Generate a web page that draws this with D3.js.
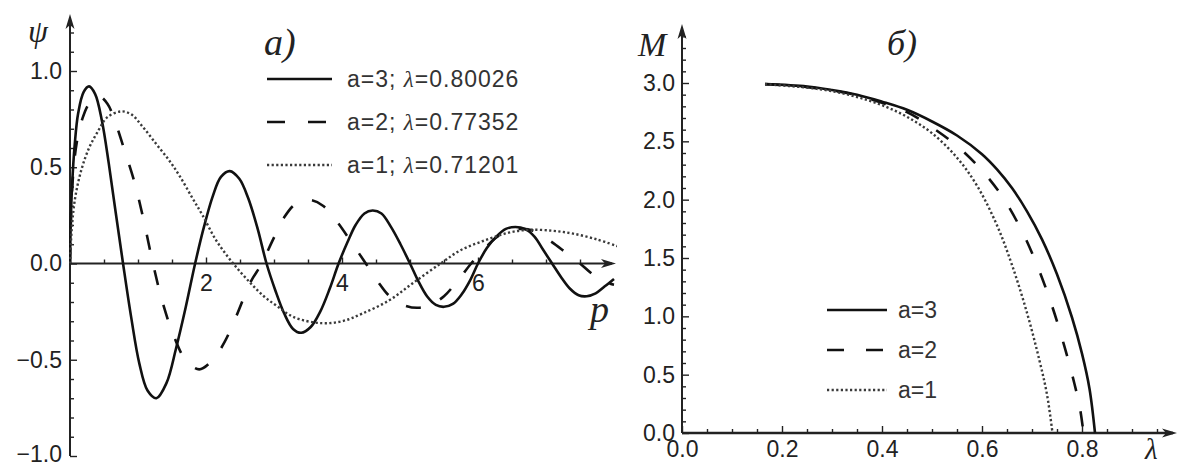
<!DOCTYPE html>
<html><head><meta charset="utf-8">
<script src="https://cdn.jsdelivr.net/npm/d3@7"></script>
<style>
body{margin:0;background:#fff}
svg{display:block}
text{font-family:"Liberation Sans",Arial,sans-serif}
.it{font-family:"Liberation Serif","Times New Roman",serif;font-style:italic}
</style>
</head><body>
<svg id="c" width="1178" height="466"></svg>
<script>
// ---------- DATA: panel a) psi(p) ----------
const psiA3 = [[0,0],[0.01,0.2],[0.03,0.4],[0.07,0.62],[0.12,0.78],[0.2,0.89],[0.28,0.92],[0.37,0.88],[0.47,0.74],[0.57,0.52],[0.67,0.27],[0.78,0],
[0.9,-0.28],[1.02,-0.52],[1.14,-0.66],[1.27,-0.70],[1.42,-0.62],[1.56,-0.44],[1.7,-0.23],[1.84,0],
[1.97,0.19],[2.1,0.35],[2.22,0.45],[2.35,0.48],[2.49,0.44],[2.62,0.34],[2.76,0.18],[2.89,0],
[3.02,-0.14],[3.15,-0.26],[3.28,-0.34],[3.4,-0.36],[3.54,-0.33],[3.68,-0.25],[3.82,-0.13],[3.95,0],
[4.08,0.11],[4.2,0.2],[4.33,0.26],[4.45,0.275],[4.58,0.26],[4.72,0.19],[4.86,0.1],[5.0,0],
[5.12,-0.09],[5.25,-0.17],[5.38,-0.215],[5.5,-0.225],[5.63,-0.21],[5.76,-0.16],[5.88,-0.09],[6.0,0],
[6.13,0.08],[6.27,0.14],[6.41,0.18],[6.55,0.19],[6.69,0.18],[6.83,0.14],[6.96,0.07],[7.09,0],
[7.22,-0.07],[7.35,-0.13],[7.48,-0.165],[7.6,-0.17],[7.73,-0.155],[7.86,-0.12],[8.0,-0.08]];
const psiA2 = [[0,0],[0.02,0.3],[0.05,0.48],[0.1,0.63],[0.18,0.75],[0.28,0.83],[0.42,0.87],[0.55,0.83],[0.66,0.74],[0.8,0.59],[0.95,0.42],[1.08,0.23],[1.22,0],
[1.36,-0.2],[1.53,-0.38],[1.7,-0.5],[1.9,-0.55],[2.1,-0.5],[2.27,-0.41],[2.45,-0.27],[2.65,-0.1],[2.82,0],
[2.98,0.12],[3.15,0.24],[3.32,0.31],[3.52,0.33],[3.72,0.3],[3.92,0.22],[4.12,0.12],[4.35,0],
[4.52,-0.09],[4.7,-0.17],[4.9,-0.215],[5.12,-0.23],[5.32,-0.21],[5.5,-0.17],[5.7,-0.09],[5.9,0],
[6.08,0.07],[6.25,0.13],[6.45,0.17],[6.65,0.18],[6.85,0.165],[7.05,0.12],[7.28,0.06],[7.5,0],
[7.7,-0.06],[7.9,-0.1],[8.0,-0.11]];
const psiA1 = [[0,0],[0.03,0.2],[0.08,0.35],[0.17,0.49],[0.28,0.6],[0.4,0.68],[0.55,0.76],[0.75,0.79],[0.9,0.775],[1.07,0.71],[1.27,0.62],[1.47,0.53],[1.62,0.45],[1.8,0.34],[1.95,0.25],[2.15,0.12],[2.4,0],
[2.65,-0.1],[2.85,-0.17],[3.04,-0.22],[3.3,-0.28],[3.7,-0.31],[4.0,-0.3],[4.3,-0.26],[4.7,-0.19],[5.05,-0.1],[5.45,0],
[5.75,0.07],[6.1,0.12],[6.45,0.16],[6.75,0.175],[7.1,0.17],[7.4,0.155],[7.75,0.125],[8.05,0.09]];
const legendA = ["a=3; ", "a=2; ", "a=1; "];
const lambdaA = ["=0.80026", "=0.77352", "=0.71201"];
const ticksAx = [2, 4, 6];
const ticksAy = [-1, -0.5, 0, 0.5, 1];

// ---------- DATA: panel б) M(lambda) ----------
const mA3 = [[0.166,2.99],[0.25,2.97],[0.3,2.94],[0.35,2.9],[0.4,2.84],[0.45,2.77],[0.5,2.67],[0.55,2.55],[0.6,2.39],[0.63,2.26],[0.66,2.1],[0.69,1.9],[0.72,1.66],[0.75,1.36],[0.78,0.99],[0.8,0.68],[0.815,0.38],[0.826,0]];
const mA2 = [[0.166,2.99],[0.25,2.965],[0.3,2.935],[0.35,2.895],[0.4,2.83],[0.45,2.75],[0.5,2.62],[0.55,2.46],[0.6,2.25],[0.64,2.03],[0.68,1.73],[0.71,1.44],[0.74,1.09],[0.765,0.74],[0.785,0.42],[0.796,0.21],[0.803,0]];
const mA1 = [[0.166,2.99],[0.25,2.96],[0.3,2.93],[0.35,2.88],[0.4,2.81],[0.45,2.71],[0.5,2.57],[0.55,2.36],[0.59,2.12],[0.63,1.78],[0.66,1.44],[0.69,1.03],[0.715,0.62],[0.73,0.33],[0.741,0]];
const legendB = ["a=3", "a=2", "a=1"];
const ticksBx = [0, 0.2, 0.4, 0.6, 0.8];
const ticksBy = [0, 0.5, 1, 1.5, 2, 2.5, 3];

const styles = [
  {dash:null, w:2.6, c:"#111"},
  {dash:"15,21", w:2.6, c:"#111"},
  {dash:"2.2,2.4", w:2.4, c:"#3a3a3a"}
];

const svg = d3.select("#c");
const AX = "#222";

function arrow(g, x, y, dir){
  const p = dir==='r' ? [[x,y],[x-15,y-4.5],[x-11,y],[x-15,y+4.5]] : [[x,y],[x-4.5,y+15],[x,y+11],[x+4.5,y+15]];
  g.append("path").attr("d", d3.line()(p)+"Z").attr("fill", AX);
}
function styleAxis(g, size){
  g.select(".domain").remove();
  g.attr("color", AX).attr("font-size", size).attr("font-family", "Liberation Sans, Arial, sans-serif");
  g.selectAll(".tick line").attr("stroke-width", 1.4);
}

// ================= PANEL a =================
const xL = d3.scaleLinear([0, 8], [70, 614]);
const yL = d3.scaleLinear([-1, 1], [456, 71]);
const gA = svg.append("g");

gA.append("g").attr("transform", `translate(0,${yL(0)})`)
  .call(d3.axisBottom(xL).tickValues(d3.range(0.5, 8, 0.5).filter(v=>!ticksAx.includes(v))).tickSize(-4).tickFormat(""))
  .call(g=>styleAxis(g, 0));
gA.append("g").attr("transform", `translate(${xL(0)},0)`)
  .call(d3.axisLeft(yL).tickValues(d3.range(-9, 13).map(v=>v/10).filter(v=>!ticksAy.some(t=>Math.abs(t-v)<1e-9))).tickSize(-4).tickFormat(""))
  .call(g=>styleAxis(g, 0));
gA.append("g").attr("transform", `translate(0,${yL(0)})`)
  .call(d3.axisBottom(xL).tickValues(ticksAx).tickSizeInner(-6).tickSizeOuter(0).tickPadding(11).tickFormat(d3.format("d")))
  .call(g=>styleAxis(g, 23));
gA.append("g").attr("transform", `translate(${xL(0)},0)`)
  .call(d3.axisLeft(yL).tickValues(ticksAy).tickSizeInner(-7).tickSizeOuter(0).tickPadding(8).tickFormat(d3.format(".1f")))
  .call(g=>styleAxis(g, 23))
  .call(g=>g.selectAll(".tick text").filter(d=>d===-1).attr("dy", "0.25em"));
gA.append("line").attr("x1", xL(0)).attr("x2", 612).attr("y1", yL(0)).attr("y2", yL(0)).attr("stroke", AX).attr("stroke-width", 1.8);
gA.append("line").attr("x1", xL(0)).attr("x2", xL(0)).attr("y1", yL(-1)).attr("y2", 18).attr("stroke", AX).attr("stroke-width", 2);
arrow(gA, 616, yL(0), 'r');
arrow(gA, xL(0), 14, 'u');

svg.append("clipPath").attr("id", "clipA").append("rect").attr("x", 69).attr("y", 0).attr("width", 548).attr("height", 466);
const lineA = d3.line().x(d=>xL(d[0])).y(d=>yL(d[1])).curve(d3.curveCatmullRom.alpha(0.5));
[psiA3, psiA2, psiA1].forEach((s, i) => {
  gA.append("path").attr("d", lineA(s)).attr("fill", "none").attr("clip-path", "url(#clipA)")
    .attr("stroke", styles[i].c).attr("stroke-width", styles[i].w).attr("stroke-dasharray", styles[i].dash)
    .attr("stroke-linejoin", "round");
});

gA.append("text").attr("class", "it").attr("x", 28).attr("y", 42).attr("font-size", 32).attr("fill", "#222").text("ψ");
gA.append("text").attr("class", "it").attr("x", 264).attr("y", 55).attr("font-size", 38).attr("fill", "#222").text("a)");
gA.append("text").attr("class", "it").attr("x", 590).attr("y", 322).attr("font-size", 38).attr("fill", "#222").text("p");

const legA = gA.append("g");
[0,1,2].forEach(i => {
  const y = 79 + i*43;
  legA.append("line").attr("x1", 267).attr("x2", 332).attr("y1", y).attr("y2", y)
    .attr("stroke", styles[i].c).attr("stroke-width", styles[i].w).attr("stroke-dasharray", i===1 ? "18,23" : styles[i].dash);
  const t = legA.append("text").attr("x", 347).attr("y", y + 8).attr("font-size", 23).attr("fill", "#333").attr("letter-spacing", 1);
  t.append("tspan").text(legendA[i]);
  t.append("tspan").attr("class", "it").text("λ");
  t.append("tspan").text(lambdaA[i]);
});

// ================= PANEL б =================
const xR = d3.scaleLinear([0, 0.8], [682, 1082]);
const yR = d3.scaleLinear([0, 3], [433, 83]);
const gB = svg.append("g");

gB.append("g").attr("transform", `translate(0,${yR(0)})`)
  .call(d3.axisBottom(xR).tickValues(d3.range(1, 20).map(v=>v/20).filter(v=>!ticksBx.some(t=>Math.abs(t-v)<1e-9))).tickSize(-4).tickFormat(""))
  .call(g=>styleAxis(g, 0));
gB.append("g").attr("transform", `translate(${xR(0)},0)`)
  .call(d3.axisLeft(yR).tickValues(d3.range(1, 35).map(v=>v/10).filter(v=>!ticksBy.some(t=>Math.abs(t-v)<1e-9))).tickSize(-4).tickFormat(""))
  .call(g=>styleAxis(g, 0));
gB.append("g").attr("transform", `translate(0,${yR(0)})`)
  .call(d3.axisBottom(xR).tickValues(ticksBx).tickSizeInner(-7).tickSizeOuter(0).tickPadding(8).tickFormat(d3.format(".1f")))
  .call(g=>styleAxis(g, 23));
gB.append("g").attr("transform", `translate(${xR(0)},0)`)
  .call(d3.axisLeft(yR).tickValues(ticksBy).tickSizeInner(-7).tickSizeOuter(0).tickPadding(7).tickFormat(d3.format(".1f")))
  .call(g=>styleAxis(g, 23));
gB.append("line").attr("x1", xR(0)).attr("x2", 1173).attr("y1", yR(0)).attr("y2", yR(0)).attr("stroke", AX).attr("stroke-width", 2.6);
gB.append("line").attr("x1", xR(0)).attr("x2", xR(0)).attr("y1", yR(0)).attr("y2", 28).attr("stroke", AX).attr("stroke-width", 2);
arrow(gB, 1177, yR(0), 'r');
arrow(gB, xR(0), 24, 'u');

const lineB = d3.line().x(d=>xR(d[0])).y(d=>yR(d[1])).curve(d3.curveCatmullRom.alpha(0.5));
[mA3, mA2, mA1].forEach((s, i) => {
  gB.append("path").attr("d", lineB(s)).attr("fill", "none")
    .attr("stroke", styles[i].c).attr("stroke-width", styles[i].w).attr("stroke-dasharray", styles[i].dash);
});

gB.append("text").attr("class", "it").attr("x", 638).attr("y", 56).attr("font-size", 34).attr("fill", "#222").text("M");
gB.append("text").attr("class", "it").attr("x", 887).attr("y", 55).attr("font-size", 36).attr("fill", "#222").text("б)");
gB.append("text").attr("class", "it").attr("x", 1145).attr("y", 459).attr("font-size", 29).attr("fill", "#222").text("λ");

const legB = gB.append("g");
[0,1,2].forEach(i => {
  const y = 310 + i*40;
  legB.append("line").attr("x1", 827).attr("x2", 887).attr("y1", y).attr("y2", y)
    .attr("stroke", styles[i].c).attr("stroke-width", styles[i].w).attr("stroke-dasharray", i===1 ? "17,22" : styles[i].dash);
  legB.append("text").attr("x", 898).attr("y", y + 8).attr("font-size", 23).attr("fill", "#333").text(legendB[i]);
});
</script>
</body></html>
